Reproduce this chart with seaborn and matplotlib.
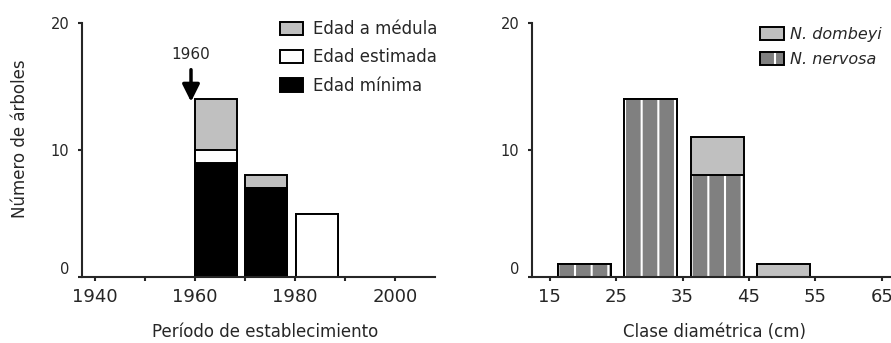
import numpy as np
import pandas as pd
import matplotlib
matplotlib.use("Agg")
import matplotlib.pyplot as plt
from matplotlib.patches import Patch
from matplotlib.legend_handler import HandlerTuple
import seaborn as sns

# Establishment period (decade start) and number of trees by age type
periods = [1960, 1970, 1980]
edad_minima = [9, 7, 0]
edad_estimada = [1, 0, 5]
edad_medula = [4, 1, 0]

# Diameter classes (lower bound, cm) and number of trees per species
diam_classes = [15, 25, 35, 45]
nervosa = [1, 14, 8, 0]
dombeyi = [0, 0, 3, 1]

period_ticks = [1940, 1960, 1980, 2000]
period_minor = [1950, 1970, 1990]
diam_ticks = [15, 25, 35, 45, 55, 65]
y_ticks = [0, 10, 20]

LIGHT = "#c0c0c0"
DARK = "#808080"
EDGE_LW = 1.4

sns.set_style("ticks")
plt.rcParams["font.family"] = ["DejaVu Sans"]
plt.rcParams["hatch.linewidth"] = 1.5

W, H = 891, 343
fig = plt.figure(figsize=(W / 100, H / 100), dpi=100)
ax1 = fig.add_axes([82 / W, 1 - 277 / H, 353 / W, 254 / H])
ax2 = fig.add_axes([532 / W, 1 - 277 / H, 363 / W, 254 / H])


def layer(ax, x, h, color, width, **kw):
    """Draw one bar layer from 0 to h (zero-height bars skipped)."""
    df = pd.DataFrame({"x": np.asarray(x, float), "h": np.asarray(h, float)})
    df = df[df["h"] > 0]
    sns.barplot(data=df, x="x", y="h", native_scale=True, orient="x",
                width=width, color=color, saturation=1, errorbar=None,
                ax=ax, **kw)


# ---- Left panel: stacked by drawing cumulative totals from the top down
p_centers = np.array(periods) + 4.3
cum_min = np.array(edad_minima)
cum_est = cum_min + np.array(edad_estimada)
cum_tot = cum_est + np.array(edad_medula)
for heights, col in [(cum_tot, LIGHT), (cum_est, "white"), (cum_min, "black")]:
    layer(ax1, p_centers, heights, col, 0.84, edgecolor="black", linewidth=EDGE_LW)

ax1.annotate("1960", xy=(1959.2, 13.8), xytext=(1959.2, 17.5),
             ha="center", va="center", fontsize=11,
             arrowprops=dict(arrowstyle="-|>", color="black", lw=2.5,
                             mutation_scale=26, shrinkA=3, shrinkB=0))

ax1.set_xlim(1937.4, 2008)
ax1.set_xticks(period_ticks)
ax1.set_xticks(period_minor, minor=True)
ax1.set_xlabel("Período de establecimiento", fontsize=12)
ax1.xaxis.set_label_coords(0.52, -0.18)
ax1.set_ylabel("Número de árboles", fontsize=12)
ax1.yaxis.label.set_va("center")
ax1.yaxis.set_label_coords(-0.176, 0.543)

leg1 = [Patch(facecolor=LIGHT, edgecolor="black", linewidth=EDGE_LW),
        Patch(facecolor="white", edgecolor="black", linewidth=EDGE_LW),
        Patch(facecolor="black", edgecolor="black", linewidth=EDGE_LW)]
ax1.legend(leg1, ["Edad a médula", "Edad estimada", "Edad mínima"],
           loc="upper left", bbox_to_anchor=(280 / W, 1 - 20 / H),
           bbox_transform=fig.transFigure, frameon=False, fontsize=12,
           borderpad=0, borderaxespad=0, handlelength=1.38, handleheight=0.85,
           handletextpad=0.6, labelspacing=0.62)

# ---- Right panel: N. nervosa (hatched) with N. dombeyi stacked on top
d_centers = np.array(diam_classes) + 5.2
ner = np.array(nervosa)
tot = ner + np.array(dombeyi)
layer(ax2, d_centers, tot, LIGHT, 0.8, edgecolor="black", linewidth=EDGE_LW)
layer(ax2, d_centers, ner, DARK, 0.8, edgecolor="white", linewidth=0, hatch="|")
layer(ax2, d_centers, ner, DARK, 0.8, facecolor="none", edgecolor="black",
      linewidth=EDGE_LW)

ax2.set_xlim(12.3, 67)
ax2.set_xticks(diam_ticks)
ax2.set_xlabel("Clase diamétrica (cm)", fontsize=12)
ax2.xaxis.set_label_coords(0.504, -0.18)
ax2.set_ylabel("")

hatched = (Patch(facecolor=DARK, edgecolor="white", linewidth=0, hatch="|"),
           Patch(facecolor="none", edgecolor="black", linewidth=EDGE_LW))
leg2 = [Patch(facecolor=LIGHT, edgecolor="black", linewidth=EDGE_LW), hatched]
ax2.legend(leg2, ["N. dombeyi", "N. nervosa"], loc="upper left",
           bbox_to_anchor=(760 / W, 1 - 27 / H), bbox_transform=fig.transFigure,
           frameon=False, prop=dict(size=11.5, style="italic"),
           borderpad=0, borderaxespad=0, handlelength=1.5, handleheight=0.9,
           handletextpad=0.35, labelspacing=0.6,
           handler_map={tuple: HandlerTuple(ndivide=1, pad=0)})

for ax in (ax1, ax2):
    ax.set_ylim(0, 20)
    ax.set_yticks(y_ticks)
    sns.despine(ax=ax)
    for side in ("left", "bottom"):
        ax.spines[side].set_linewidth(1.5)
    ax.tick_params(axis="x", which="both", length=3, width=1.5, pad=5,
                   labelsize=13)
    ax.tick_params(axis="y", length=3, width=1.5, pad=6, labelsize=10.5)
    ax.yaxis.get_major_ticks()[0].label1.set_va("bottom")

fig.savefig("out.png", dpi=100)
